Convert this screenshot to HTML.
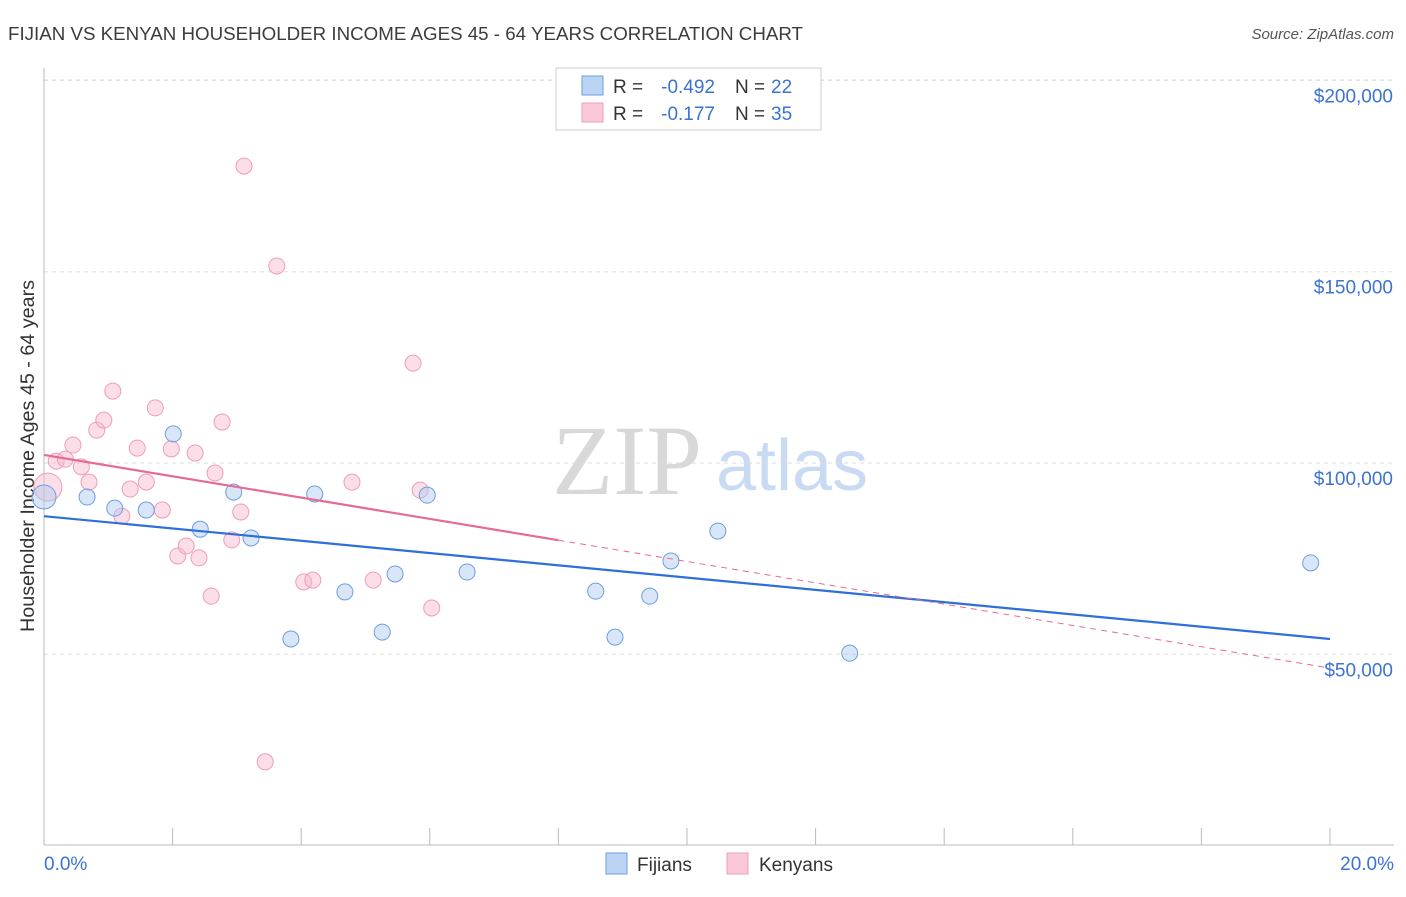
<!DOCTYPE html>
<html><head><meta charset="utf-8"><style>
body{margin:0;background:#fff;font-family:"Liberation Sans",sans-serif}
</style></head><body>
<svg id="c" width="1406" height="892" xmlns="http://www.w3.org/2000/svg" font-family="Liberation Sans, sans-serif"></svg>
<script>
const fijX=[0.0,0.67,1.1,1.59,2.01,2.43,2.95,3.22,3.84,4.21,4.68,5.26,5.46,5.96,6.58,8.58,8.88,9.42,9.75,10.48,12.53,19.7];
const fijY=[91100,91100,88200,87700,107600,82700,92400,80400,54000,91900,66300,55800,71000,91600,71500,66500,54500,65200,74400,82200,50300,73900];
const kenX=[0.06,0.19,0.33,0.45,0.58,0.7,0.82,0.93,1.07,1.21,1.34,1.45,1.59,1.73,1.84,1.98,2.08,2.21,2.35,2.41,2.6,2.66,2.77,2.92,3.06,3.11,3.44,3.62,4.04,4.18,4.79,5.12,5.74,5.85,6.03];
const kenY=[93700,100500,101000,104700,99000,95000,108600,111200,118800,86100,93200,103900,95000,114400,87700,103700,75700,78300,102600,75200,65200,97400,110700,79900,87200,177600,21900,151500,68900,69400,95000,69400,126100,92900,62100];
const yTicks=[50000,100000,150000,200000];
const yTickLabels=["$50,000","$100,000","$150,000","$200,000"];
const fijTrend=[86100,54000];
const kenTrend=[102100,46400];
const kenSolidEnd=8;

const X=p=>44+p*64.3;
const Y=v=>845.6-v*191.3/50000;
const svg=document.getElementById('c');
const NS="http://www.w3.org/2000/svg";
function el(t,a,p){const e=document.createElementNS(NS,t);for(const k in a)e.setAttribute(k,a[k]);(p||svg).appendChild(e);return e;}

let t=el('text',{x:8,y:40,'font-size':18.5,fill:'#3c3c3c',textLength:795,lengthAdjust:'spacingAndGlyphs'});t.textContent="FIJIAN VS KENYAN HOUSEHOLDER INCOME AGES 45 - 64 YEARS CORRELATION CHART";

t=el('text',{x:1394,y:39,'font-size':15,fill:'#555','font-style':'italic','text-anchor':'end'});t.textContent="Source: ZipAtlas.com";


t=el('text',{x:552,y:494,'font-size':100,fill:'#d8d8d8','font-family':'Liberation Serif, serif'});t.textContent="ZIP";

t=el('text',{x:716,y:490,'font-size':72,fill:'#c9dbf2'});t.textContent="atlas";


el('line',{x1:44,y1:80,x2:1394,y2:80,stroke:'#ddd','stroke-dasharray':'4,4'});
yTicks.forEach((v,i)=>{
  const g=el('line',{x1:44,y1:Y(v),x2:1394,y2:Y(v),stroke:'#ddd','stroke-dasharray':'4,4'});
  
  const l=el('text',{x:1393,y:Y(v)+22,'font-size':19,fill:'#3b73d1','text-anchor':'end'});l.textContent=yTickLabels[i];
  
});
el('line',{x1:44,y1:68,x2:44,y2:845,stroke:'#bbb'});
el('line',{x1:44,y1:845,x2:1394,y2:845,stroke:'#bbb'});
for(let i=1;i<=10;i++){const tk=el('line',{x1:X(i*2),y1:828,x2:X(i*2),y2:845,stroke:'#bbb'});}
t=el('text',{x:44,y:870,'font-size':19,fill:'#3b73d1'});t.textContent="0.0%";
t=el('text',{x:1394,y:870,'font-size':19,fill:'#3b73d1','text-anchor':'end'});t.textContent="20.0%";
t=el('text',{x:0,y:0,'font-size':19.5,fill:'#333','text-anchor':'middle',transform:'translate(34,456) rotate(-90)',textLength:352,lengthAdjust:'spacingAndGlyphs'});t.textContent="Householder Income Ages 45 - 64 years";


kenX.forEach((x,i)=>{const c=el('circle',{cx:X(x),cy:Y(kenY[i]),r:i==0?14:8,fill:'rgba(246,182,204,0.45)',stroke:'#ef9dba','stroke-width':1});
});
fijX.forEach((x,i)=>{const c=el('circle',{cx:X(x),cy:Y(fijY[i]),r:i==0?12:8,fill:'rgba(170,200,240,0.45)',stroke:'#6c9ee0','stroke-width':1});
});

let ln=el('line',{x1:X(0),y1:Y(fijTrend[0]),x2:X(20),y2:Y(fijTrend[1]),stroke:'#2e6fd9','stroke-width':2.2});

const kAt=p=>kenTrend[0]+(kenTrend[1]-kenTrend[0])*p/20;
ln=el('line',{x1:X(0),y1:Y(kenTrend[0]),x2:X(kenSolidEnd),y2:Y(kAt(kenSolidEnd)),stroke:'#e86a94','stroke-width':2.2});

ln=el('line',{x1:X(kenSolidEnd),y1:Y(kAt(kenSolidEnd)),x2:X(20),y2:Y(kenTrend[1]),stroke:'#e86a94','stroke-width':1,'stroke-dasharray':'6,5'});


const lg=el('g',{});
el('rect',{x:556,y:68,width:265,height:62,fill:'#fff',stroke:'#ccc'},lg);
el('rect',{x:582,y:76,width:21,height:19,fill:'#bcd4f4',stroke:'#6c9ee0'},lg);
el('rect',{x:582,y:103,width:21,height:19,fill:'#f9c9d8',stroke:'#ef9dba'},lg);
const rows=[["-0.492","22",93],["-0.177","35",120]];
rows.forEach(r=>{
  let a=el('text',{x:613,y:r[2],'font-size':19,fill:'#333'},lg);a.textContent="R = ";
  a=el('text',{x:715,y:r[2],'font-size':19,fill:'#3b73d1','text-anchor':'end'},lg);a.textContent=r[0];
  a=el('text',{x:735,y:r[2],'font-size':19,fill:'#333'},lg);a.textContent="N = ";
  a=el('text',{x:771,y:r[2],'font-size':19,fill:'#3b73d1'},lg);a.textContent=r[1];
});
const bl=el('g',{});
el('rect',{x:606,y:853,width:21,height:21,fill:'#bcd4f4',stroke:'#6c9ee0'},bl);
t=el('text',{x:637,y:871,'font-size':19,fill:'#333'},bl);t.textContent="Fijians";
el('rect',{x:727,y:853,width:21,height:21,fill:'#f9c9d8',stroke:'#ef9dba'},bl);
t=el('text',{x:759,y:871,'font-size':19,fill:'#333'},bl);t.textContent="Kenyans";
</script>
</body></html>
